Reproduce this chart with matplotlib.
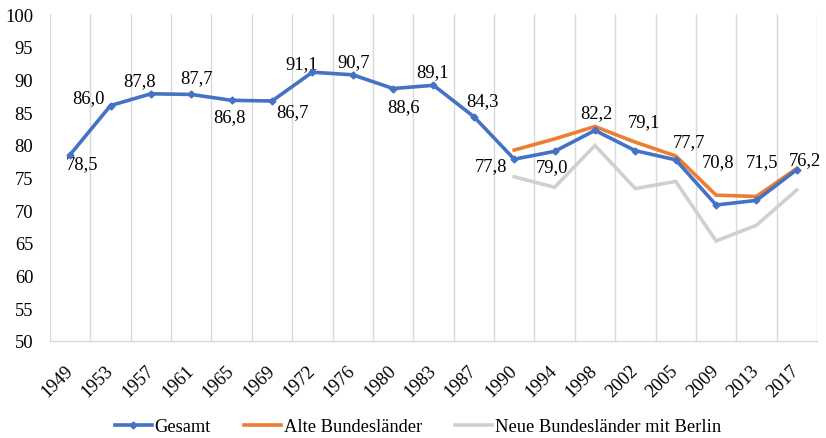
import numpy as np
import matplotlib
matplotlib.use("Agg")
import matplotlib.pyplot as plt
from matplotlib.lines import Line2D

# Daten
jahre = ["1949", "1953", "1957", "1961", "1965", "1969", "1972", "1976", "1980",
         "1983", "1987", "1990", "1994", "1998", "2002", "2005", "2009", "2013", "2017"]
gesamt = [78.5, 86.0, 87.8, 87.7, 86.8, 86.7, 91.1, 90.7, 88.6,
          89.1, 84.3, 77.8, 79.0, 82.2, 79.1, 77.7, 70.8, 71.5, 76.2]
alte = [79.2, 80.9, 82.8, 80.4, 78.3, 72.3, 72.1, 76.4]
neue = [75.1, 73.5, 79.9, 73.3, 74.4, 65.3, 67.7, 73.1]
start_ost = jahre.index("1990")

# Position der Datenbeschriftungen (Pixel-Versatz)
label_off = [(12, -9), (-22, 8), (-11, 13), (5, 17), (-2, -16), (20, -11), (-11, 9),
             (1, 13), (10, -18), (-1, 14), (9, 16), (-23, -6), (-3, -15), (1, 18),
             (9, 29), (13, 18), (2, 43), (6, 39), (8, 10)]

plt.rcParams["font.family"] = ["Liberation Serif", "DejaVu Serif"]
FS = 13.3

BLAU = "#4472C4"
ORANGE = "#ED7D31"
GRAU = "#D0D0D0"
GRID = "#D9D9D9"

fig = plt.figure(figsize=(8.26, 4.39), dpi=100)
ax = fig.add_axes([50 / 826, 1 - 342 / 439, 767 / 826, 327 / 439])

x = np.arange(len(jahre))
x_ost = x[start_ost:]

ax.plot(x_ost, neue, color=GRAU, lw=2.6, solid_joinstyle="miter", zorder=2)
ax.plot(x_ost, alte, color=ORANGE, lw=2.6, solid_joinstyle="miter", zorder=3)
ax.plot(x, gesamt, color=BLAU, lw=2.6, marker="D", ms=3.5, solid_joinstyle="miter", zorder=4)

for i, v in enumerate(gesamt):
    dx, dy = label_off[i]
    ax.annotate(f"{v:.1f}".replace(".", ","), (x[i], v), xytext=(dx, dy),
                textcoords="offset pixels", ha="center", va="center", fontsize=FS)

ax.set_xlim(-0.5, len(jahre) - 0.5)
ax.set_ylim(50, 100)
ax.set_yticks(np.arange(50, 101, 5))
ax.set_xticks(x)
ax.set_xticklabels(jahre, rotation=45, ha="right", va="center", rotation_mode="anchor")
ax.set_xticks(np.arange(-0.5, len(jahre), 1), minor=True)
ax.grid(axis="x", which="minor", color=GRID, lw=1)
ax.tick_params(axis="both", which="both", length=0, labelsize=FS)
ax.tick_params(axis="y", pad=12)
ax.tick_params(axis="x", pad=19)
for s in ["top", "right", "left"]:
    ax.spines[s].set_visible(False)
ax.spines["bottom"].set_color(GRID)
ax.spines["bottom"].set_linewidth(1)

handles = [
    Line2D([], [], color=BLAU, lw=2.6, marker="D", ms=3.5),
    Line2D([], [], color=ORANGE, lw=2.6),
    Line2D([], [], color=GRAU, lw=2.6),
]
fig.legend(handles, ["Gesamt", "Alte Bundesländer", "Neue Bundesländer mit Berlin"],
           loc="center", bbox_to_anchor=(418 / 826, 1 - 428 / 439), ncol=3,
           frameon=False, fontsize=FS, handlelength=2.0, handletextpad=0.15,
           columnspacing=1.8, borderpad=0)

fig.savefig("out.png", dpi=100)
